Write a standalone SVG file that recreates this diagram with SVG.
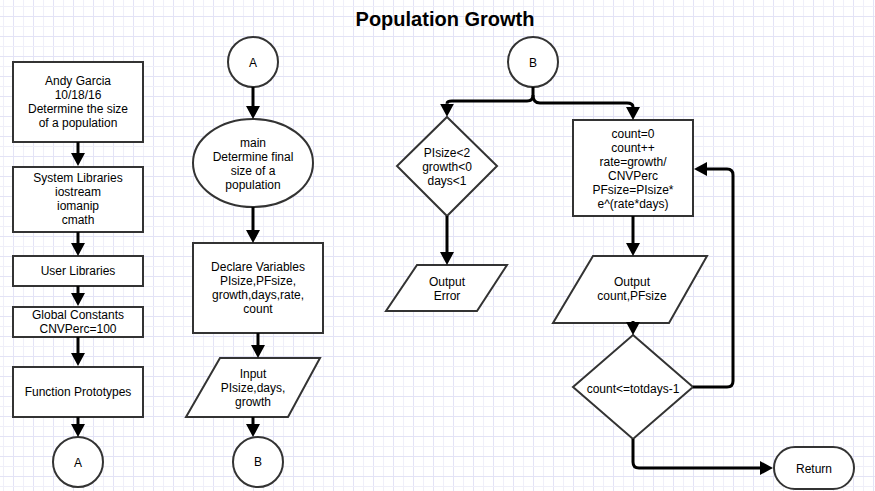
<svg xmlns="http://www.w3.org/2000/svg" width="875" height="491" viewBox="0 0 875 491">
<defs>
<pattern id="grid" width="20" height="20" patternUnits="userSpaceOnUse" x="3" y="6">
<rect x="0" y="0" width="1" height="20" fill="#efeff9"/>
<rect x="10" y="0" width="1" height="20" fill="#e3e3f6"/>
<rect x="0" y="0" width="20" height="1" fill="#efeff9"/>
<rect x="0" y="10" width="20" height="1" fill="#e3e3f6"/>
</pattern>
<marker id="ah" markerUnits="userSpaceOnUse" markerWidth="13" markerHeight="14" refX="0" refY="7" orient="auto">
<path d="M0,0 L13,7 L0,14 z" fill="#000"/>
</marker>
</defs>
<style>
.shape{fill:#fff;stroke:#333;stroke-width:2}
text{font-family:"Liberation Sans",Arial,sans-serif;font-size:12px;fill:#000;text-anchor:middle}
.title{font-size:20px;font-weight:bold}
.conn{fill:none;stroke:#000;stroke-width:3;marker-end:url(#ah)}
</style>
<rect width="875" height="491" fill="#fff"/>
<rect width="875" height="491" fill="url(#grid)"/>
<text class="title" x="445" y="26">Population Growth</text>

<g id="header">
<rect class="shape" x="13" y="62" width="130" height="80"/>
<text x="78" y="85">Andy Garcia</text>
<text x="78" y="99">10/18/16</text>
<text x="78" y="113">Determine the size</text>
<text x="78" y="127">of a population</text>
</g>
<g id="syslibs">
<rect class="shape" x="13" y="167" width="130" height="65"/>
<text x="78" y="182">System Libraries</text>
<text x="78" y="196">iostream</text>
<text x="78" y="210">iomanip</text>
<text x="78" y="224">cmath</text>
</g>
<g id="userlibs">
<rect class="shape" x="13" y="256" width="130" height="30"/>
<text x="78" y="275">User Libraries</text>
</g>
<g id="globals">
<rect class="shape" x="13" y="307" width="130" height="30"/>
<text x="78" y="319">Global Constants</text>
<text x="78" y="333">CNVPerc=100</text>
</g>
<g id="prototypes">
<rect class="shape" x="13" y="367" width="130" height="50"/>
<text x="78" y="396">Function Prototypes</text>
</g>
<g id="connA1">
<circle class="shape" cx="78" cy="462" r="25"/>
<text x="78" y="467">A</text>
</g>

<g id="connA2">
<circle class="shape" cx="253" cy="62" r="25"/>
<text x="253" y="67">A</text>
</g>
<g id="main">
<ellipse class="shape" cx="253" cy="163" rx="60" ry="44"/>
<text x="253" y="147">main</text>
<text x="253" y="161">Determine final</text>
<text x="253" y="175">size of a</text>
<text x="253" y="189">population</text>
</g>
<g id="declare">
<rect class="shape" x="193" y="243" width="130" height="90"/>
<text x="258" y="271">Declare Variables</text>
<text x="258" y="285">PIsize,PFsize,</text>
<text x="258" y="299">growth,days,rate,</text>
<text x="258" y="313">count</text>
</g>
<g id="input">
<polygon class="shape" points="220,358 320,358 288,417 186,417"/>
<text x="253" y="378">Input</text>
<text x="253" y="392">PIsize,days,</text>
<text x="253" y="406">growth</text>
</g>
<g id="connB1">
<circle class="shape" cx="258" cy="462" r="25"/>
<text x="258" y="466">B</text>
</g>

<g id="connB2">
<circle class="shape" cx="533" cy="62" r="25"/>
<text x="533" y="67">B</text>
</g>
<g id="check">
<polygon class="shape" points="447,117 497,166 447,216 397,166"/>
<text x="447" y="157">PIsize&lt;2</text>
<text x="447" y="171">growth&lt;0</text>
<text x="447" y="185">days&lt;1</text>
</g>
<g id="error">
<polygon class="shape" points="417,265 507,265 477,311 386,311"/>
<text x="447" y="286">Output</text>
<text x="447" y="300">Error</text>
</g>
<g id="calc">
<rect class="shape" x="573" y="120" width="120" height="96"/>
<text x="633" y="137.5">count=0</text>
<text x="633" y="151.5">count++</text>
<text x="633" y="165.5">rate=growth/</text>
<text x="633" y="179.5">CNVPerc</text>
<text x="633" y="193.5">PFsize=PIsize*</text>
<text x="633" y="207.5">e^(rate*days)</text>
</g>
<g id="output">
<polygon class="shape" points="593,256 707,256 669,323 553,323"/>
<text x="632" y="286">Output</text>
<text x="632" y="300">count,PFsize</text>
</g>
<g id="loop">
<polygon class="shape" points="633,335 693,387 633,439 573,387"/>
<text x="633" y="393">count&lt;=totdays-1</text>
</g>
<g id="return">
<rect class="shape" x="774" y="447" width="80" height="42" rx="21" ry="21"/>
<text x="814" y="473">Return</text>
</g>

<g id="connectors">
<path class="conn" d="M78,142 V153"/>
<path class="conn" d="M78,232 V243"/>
<path class="conn" d="M78,286 V293"/>
<path class="conn" d="M78,337 V353"/>
<path class="conn" d="M78,417 V424"/>
<path class="conn" d="M253,87 V106"/>
<path class="conn" d="M253,207 V230"/>
<path class="conn" d="M258,333 V345"/>
<path class="conn" d="M253,417 V424"/>
<path class="conn" d="M533,87 V95 Q533,101 527,101 H452 Q447,101 447,103.7"/>
<path class="conn" d="M533,95 Q533,103 540,103 H627 Q633,103 633,107"/>
<path class="conn" d="M447,216 V252"/>
<path class="conn" d="M633,216 V243"/>
<path class="conn" d="M633,321 V322"/>
<path class="conn" d="M693,387 H727 Q733,387 733,381 V175 Q733,169 727,169 H707"/>
<path class="conn" d="M633,439 V462 Q633,468 639,468 H760"/>
</g>
</svg>
